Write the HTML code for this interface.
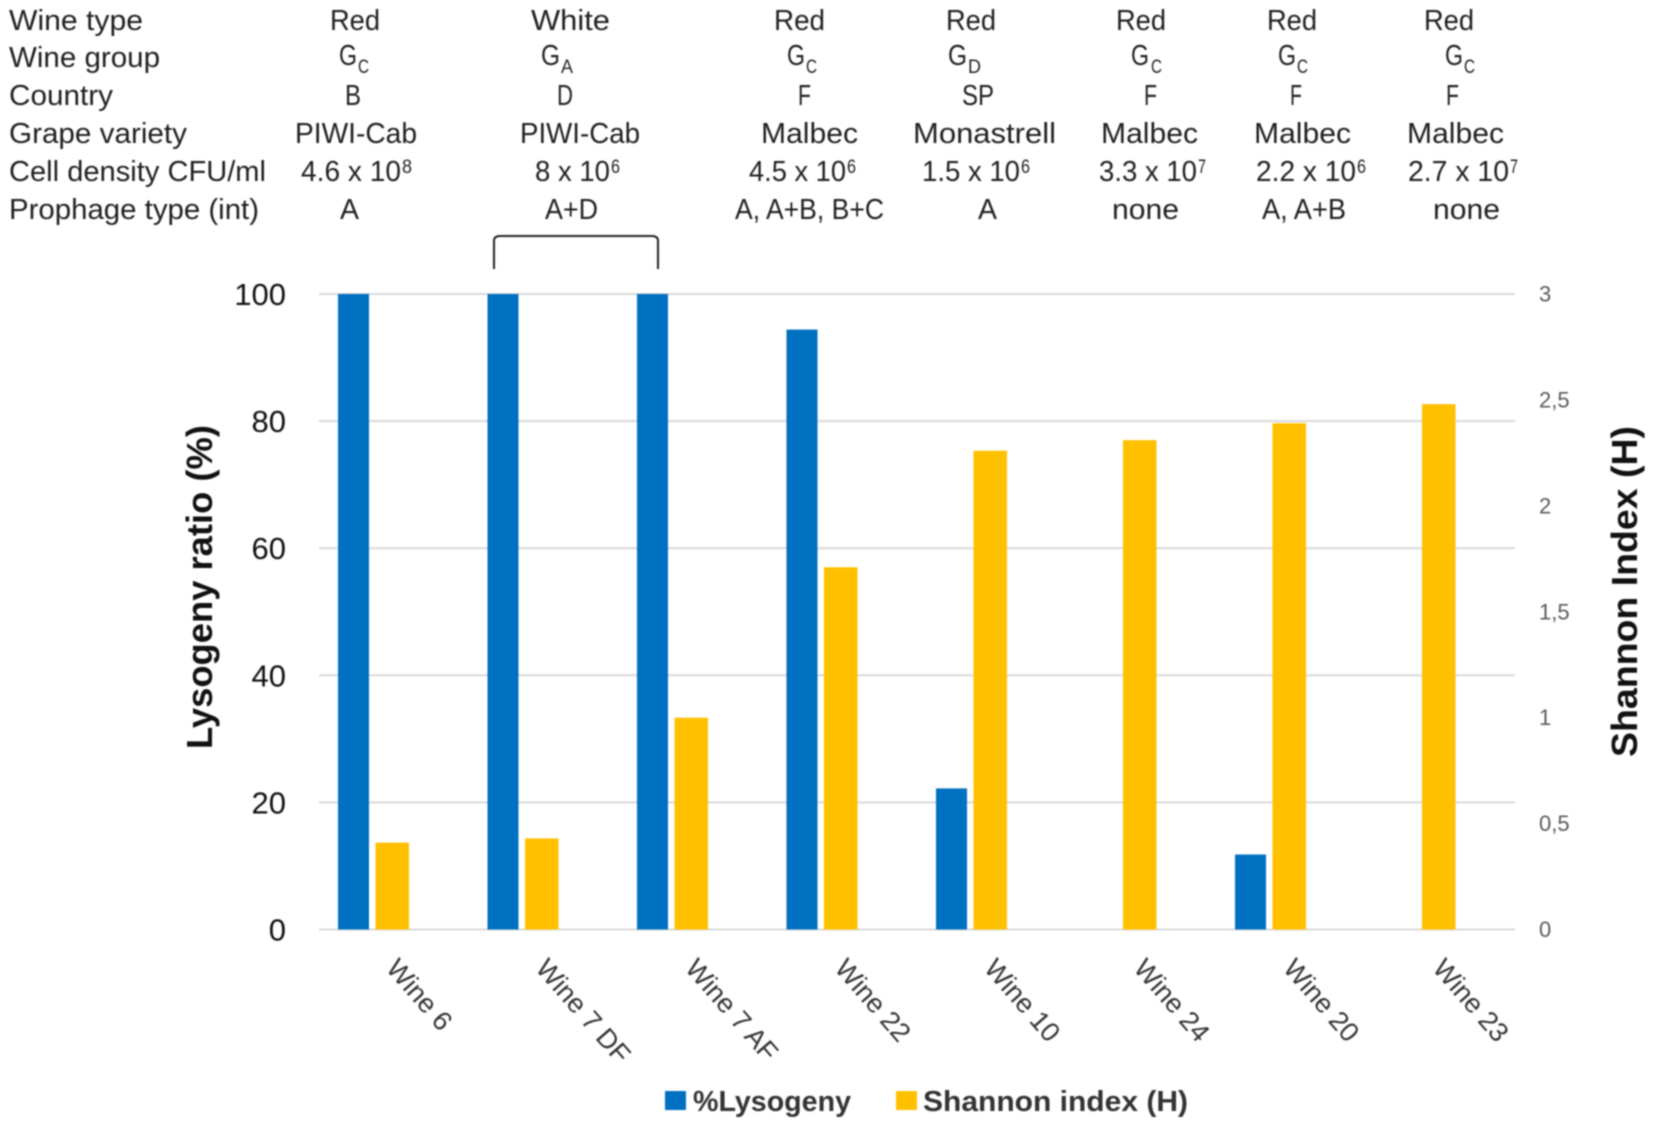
<!DOCTYPE html>
<html lang="en">
<head>
<meta charset="utf-8">
<title>Lysogeny ratio and Shannon index by wine</title>
<style>
html,body{margin:0;padding:0;background:#fff;width:1654px;height:1127px;overflow:hidden}
svg{display:block;filter:blur(.75px)}
text{font-family:"Liberation Sans",sans-serif}
.t{font-size:28.5px;fill:#1f1f1f}
.s{font-size:19px;fill:#1f1f1f}
</style>
</head>
<body>
<svg id="chart" xmlns="http://www.w3.org/2000/svg" width="1654" height="1127" viewBox="0 0 1654 1127">
<rect x="0" y="0" width="1654" height="1127" fill="#fff"/>
<g id="table">
<g>
<text class="t" x="9" y="30" textLength="134" lengthAdjust="spacingAndGlyphs">Wine type</text>
<text class="t" x="330" y="30" textLength="50" lengthAdjust="spacingAndGlyphs">Red</text>
<text class="t" x="531" y="30" textLength="79" lengthAdjust="spacingAndGlyphs">White</text>
<text class="t" x="774" y="30" textLength="51" lengthAdjust="spacingAndGlyphs">Red</text>
<text class="t" x="946" y="30" textLength="50" lengthAdjust="spacingAndGlyphs">Red</text>
<text class="t" x="1116" y="30" textLength="50" lengthAdjust="spacingAndGlyphs">Red</text>
<text class="t" x="1267" y="30" textLength="50" lengthAdjust="spacingAndGlyphs">Red</text>
<text class="t" x="1424" y="30" textLength="50" lengthAdjust="spacingAndGlyphs">Red</text>
</g>
<g>
<text class="t" x="9" y="67" textLength="151" lengthAdjust="spacingAndGlyphs">Wine group</text>
<text class="t" x="339" y="65" textLength="18" lengthAdjust="spacingAndGlyphs">G</text><text class="s" x="358" y="73" textLength="11" lengthAdjust="spacingAndGlyphs">C</text>
<text class="t" x="541" y="65" textLength="19" lengthAdjust="spacingAndGlyphs">G</text><text class="s" x="561" y="73" textLength="12" lengthAdjust="spacingAndGlyphs">A</text>
<text class="t" x="787" y="65" textLength="18" lengthAdjust="spacingAndGlyphs">G</text><text class="s" x="806" y="73" textLength="11" lengthAdjust="spacingAndGlyphs">C</text>
<text class="t" x="948" y="65" textLength="19" lengthAdjust="spacingAndGlyphs">G</text><text class="s" x="968" y="73" textLength="13" lengthAdjust="spacingAndGlyphs">D</text>
<text class="t" x="1131" y="65" textLength="18" lengthAdjust="spacingAndGlyphs">G</text><text class="s" x="1151" y="73" textLength="11" lengthAdjust="spacingAndGlyphs">C</text>
<text class="t" x="1278" y="65" textLength="18" lengthAdjust="spacingAndGlyphs">G</text><text class="s" x="1297" y="73" textLength="11" lengthAdjust="spacingAndGlyphs">C</text>
<text class="t" x="1445" y="65" textLength="18" lengthAdjust="spacingAndGlyphs">G</text><text class="s" x="1464" y="73" textLength="11" lengthAdjust="spacingAndGlyphs">C</text>
</g>
<g>
<text class="t" x="9" y="105" textLength="104" lengthAdjust="spacingAndGlyphs">Country</text>
<text class="t" x="345" y="105" textLength="16" lengthAdjust="spacingAndGlyphs">B</text>
<text class="t" x="557" y="105" textLength="16" lengthAdjust="spacingAndGlyphs">D</text>
<text class="t" x="798" y="105" textLength="13" lengthAdjust="spacingAndGlyphs">F</text>
<text class="t" x="962" y="105" textLength="32" lengthAdjust="spacingAndGlyphs">SP</text>
<text class="t" x="1144" y="105" textLength="13" lengthAdjust="spacingAndGlyphs">F</text>
<text class="t" x="1290" y="105" textLength="12" lengthAdjust="spacingAndGlyphs">F</text>
<text class="t" x="1446" y="105" textLength="13" lengthAdjust="spacingAndGlyphs">F</text>
</g>
<g>
<text class="t" x="9" y="143" textLength="178" lengthAdjust="spacingAndGlyphs">Grape variety</text>
<text class="t" x="295" y="143" textLength="122" lengthAdjust="spacingAndGlyphs">PIWI-Cab</text>
<text class="t" x="520" y="143" textLength="120" lengthAdjust="spacingAndGlyphs">PIWI-Cab</text>
<text class="t" x="761" y="143" textLength="97" lengthAdjust="spacingAndGlyphs">Malbec</text>
<text class="t" x="913" y="143" textLength="143" lengthAdjust="spacingAndGlyphs">Monastrell</text>
<text class="t" x="1101" y="143" textLength="97" lengthAdjust="spacingAndGlyphs">Malbec</text>
<text class="t" x="1254" y="143" textLength="97" lengthAdjust="spacingAndGlyphs">Malbec</text>
<text class="t" x="1407" y="143" textLength="97" lengthAdjust="spacingAndGlyphs">Malbec</text>
</g>
<g>
<text class="t" x="9" y="181" textLength="257" lengthAdjust="spacingAndGlyphs">Cell density CFU/ml</text>
<text class="t" x="301" y="181" textLength="100" lengthAdjust="spacingAndGlyphs">4.6 x 10</text><text class="s" x="402" y="173" textLength="10" lengthAdjust="spacingAndGlyphs">8</text>
<text class="t" x="535" y="181" textLength="75" lengthAdjust="spacingAndGlyphs">8 x 10</text><text class="s" x="611" y="173" textLength="9" lengthAdjust="spacingAndGlyphs">6</text>
<text class="t" x="749" y="181" textLength="97" lengthAdjust="spacingAndGlyphs">4.5 x 10</text><text class="s" x="847" y="173" textLength="9" lengthAdjust="spacingAndGlyphs">6</text>
<text class="t" x="922" y="181" textLength="98" lengthAdjust="spacingAndGlyphs">1.5 x 10</text><text class="s" x="1021" y="173" textLength="9" lengthAdjust="spacingAndGlyphs">6</text>
<text class="t" x="1099" y="181" textLength="98" lengthAdjust="spacingAndGlyphs">3.3 x 10</text><text class="s" x="1198" y="173" textLength="8" lengthAdjust="spacingAndGlyphs">7</text>
<text class="t" x="1256" y="181" textLength="100" lengthAdjust="spacingAndGlyphs">2.2 x 10</text><text class="s" x="1357" y="173" textLength="9" lengthAdjust="spacingAndGlyphs">6</text>
<text class="t" x="1408" y="181" textLength="101" lengthAdjust="spacingAndGlyphs">2.7 x 10</text><text class="s" x="1510" y="173" textLength="8" lengthAdjust="spacingAndGlyphs">7</text>
</g>
<g>
<text class="t" x="9" y="219" textLength="250" lengthAdjust="spacingAndGlyphs">Prophage type (int)</text>
<text class="t" x="340" y="219" textLength="19" lengthAdjust="spacingAndGlyphs">A</text>
<text class="t" x="545" y="219" textLength="53" lengthAdjust="spacingAndGlyphs">A+D</text>
<text class="t" x="735" y="219" textLength="149" lengthAdjust="spacingAndGlyphs">A, A+B, B+C</text>
<text class="t" x="978" y="219" textLength="19" lengthAdjust="spacingAndGlyphs">A</text>
<text class="t" x="1112" y="219" textLength="67" lengthAdjust="spacingAndGlyphs">none</text>
<text class="t" x="1262" y="219" textLength="84" lengthAdjust="spacingAndGlyphs">A, A+B</text>
<text class="t" x="1433" y="219" textLength="67" lengthAdjust="spacingAndGlyphs">none</text>
</g>
</g>
<path d="M494 269 L494 241 Q494 236 500 236 L652 236 Q658 236 658 241 L658 269" fill="none" stroke="#222" stroke-width="2"/>
<g id="grid"></g>
<g id="bars"></g>
<g id="axes"></g>
<text transform="translate(212,749) rotate(-90)" font-size="36" font-weight="700" fill="#111" textLength="324" lengthAdjust="spacingAndGlyphs">Lysogeny ratio (%)</text>
<text transform="translate(1637,757) rotate(-90)" font-size="36" font-weight="700" fill="#111" textLength="331" lengthAdjust="spacingAndGlyphs">Shannon Index (H)</text>
<g>
<rect x="665" y="1091" width="21" height="19" fill="#0070C0"/>
<text x="693" y="1111" font-size="29" font-weight="700" fill="#333" textLength="158" lengthAdjust="spacingAndGlyphs">%Lysogeny</text>
<rect x="896" y="1091" width="21" height="19" fill="#FFC000"/>
<text x="923" y="1111" font-size="29" font-weight="700" fill="#333" textLength="265" lengthAdjust="spacingAndGlyphs">Shannon index (H)</text>
</g>
</svg>
<script>
var categories = ['Wine 6','Wine 7 DF','Wine 7 AF','Wine 22','Wine 10','Wine 24','Wine 20','Wine 23'];
var lysogeny = [100,100,100,94.4,22.2,0,11.8,0];
var shannon = [0.41,0.43,1.0,1.71,2.26,2.31,2.39,2.48];
var leftTicks = [0,20,40,60,80,100];
var rightTicks = [0,0.5,1,1.5,2,2.5,3];
var rightTickLabels = ['0','0,5','1','1,5','2','2,5','3'];

var NS = 'http://www.w3.org/2000/svg';
var plotLeft = 319, plotRight = 1515, plotTop = 294, plotBottom = 929.5;
var band = (plotRight - plotLeft) / categories.length;
function yLeft(v){ return plotBottom - (v / 100) * (plotBottom - plotTop); }
function yRight(v){ return plotBottom - (v / 3) * (plotBottom - plotTop); }
function xBand(i){ return plotLeft + i * band; }
function make(tag, attrs, parent){
  var el = document.createElementNS(NS, tag);
  for (var k in attrs) el.setAttribute(k, attrs[k]);
  parent.appendChild(el);
  return el;
}
var gridG = document.getElementById('grid');
var barsG = document.getElementById('bars');
var axesG = document.getElementById('axes');

leftTicks.forEach(function(t){
  var line = make('line', {x1:plotLeft, x2:plotRight, y1:yLeft(t), y2:yLeft(t), stroke:'#d9d9d9', 'stroke-width':2}, gridG);
  
  
  var lab = make('text', {x:286, y:yLeft(t) + 11, 'text-anchor':'end', 'font-size':31, fill:'#111'}, axesG);
  
  
  lab.textContent = String(t);
});
rightTicks.forEach(function(t, i){
  var lab = make('text', {x:1539, y:yRight(t) + 7.5, 'font-size':22, fill:'#595959'}, axesG);
  
  
  lab.textContent = rightTickLabels[i];
});
categories.forEach(function(c, i){
  var b = make('rect', {x:xBand(i) + 19, y:yLeft(lysogeny[i]), width:31, height:plotBottom - yLeft(lysogeny[i]), fill:'#0070C0'}, barsG);
  
  
  var s = make('rect', {x:xBand(i) + 56.5, y:yRight(shannon[i]), width:33.5, height:plotBottom - yRight(shannon[i]), fill:'#FFC000'}, barsG);
  
  
  var px = xBand(i) + 66, py = 969;
  var lab = make('text', {transform:'translate(' + px + ',' + py + ') rotate(49)', 'font-size':27, fill:'#333'}, axesG);
  
  
  lab.textContent = c;
});
</script>
</body>
</html>
